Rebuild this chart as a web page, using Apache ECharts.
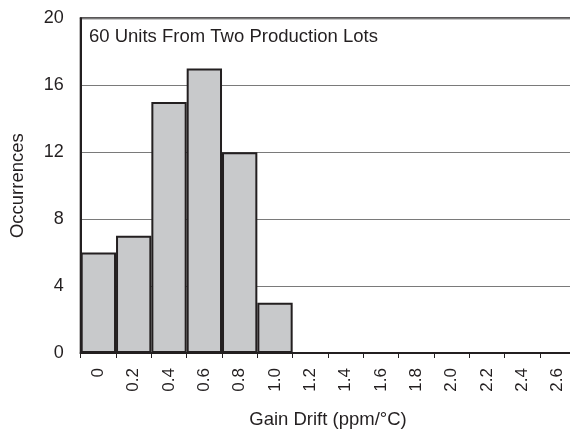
<!DOCTYPE html>
<html>
<head>
<meta charset="utf-8">
<script src="https://cdn.jsdelivr.net/npm/echarts@6/dist/echarts.min.js"></script>
<style>
html,body{margin:0;padding:0;background:#fff;overflow:hidden;width:570px;height:434px;}
#chart{width:582px;height:434px;}
</style>
</head>
<body>
<div id="chart"></div>
<script>
const categories = ['0','0.2','0.4','0.6','0.8','1.0','1.2','1.4','1.6','1.8','2.0','2.2','2.4','2.6'];
const occurrences = [6, 7, 15, 17, 12, 3, 0, 0, 0, 0, 0, 0, 0, 0];
const yTicks = [0, 4, 8, 12, 16, 20];
const titleText = '60 Units From Two Production Lots';
const xName = 'Gain Drift (ppm/°C)';
const yName = 'Occurrences';

const FONT = '"Liberation Sans", Arial, Helvetica, sans-serif';
const INK = '#231f20';

const chart = echarts.init(document.getElementById('chart'), null, {renderer: 'canvas'});
chart.setOption({
  animation: false,
  backgroundColor: '#fff',
  title: {
    text: titleText,
    left: 89,
    top: 27,
    padding: 0,
    textStyle: {fontFamily: FONT, fontSize: 18.5, fontWeight: 'normal', color: INK}
  },
  grid: {
    left: 80.7,
    top: 18.3,
    width: 494.6,
    height: 336.2,
    show: true,
    borderColor: INK,
    borderWidth: 2,
    containLabel: false
  },
  xAxis: {
    type: 'category',
    data: categories,
    boundaryGap: true,
    name: xName,
    nameLocation: 'middle',
    nameGap: 57,
    nameTextStyle: {fontFamily: FONT, fontSize: 18.5, color: INK},
    axisLine: {show: true, lineStyle: {color: INK, width: 2}},
    axisTick: {show: true, alignWithLabel: false, length: 5, lineStyle: {color: INK, width: 1}},
    axisLabel: {
      rotate: 90,
      interval: 0,
      margin: 15,
      fontFamily: FONT,
      fontSize: 17,
      color: INK
    },
    splitLine: {show: false}
  },
  yAxis: {
    type: 'value',
    min: yTicks[0],
    max: yTicks[yTicks.length - 1],
    interval: 4,
    name: yName,
    nameLocation: 'middle',
    nameGap: 53,
    nameTextStyle: {fontFamily: FONT, fontSize: 18.5, color: INK},
    axisLine: {show: true, lineStyle: {color: INK, width: 2}},
    axisTick: {show: false},
    axisLabel: {margin: 17, fontFamily: FONT, fontSize: 18, color: INK},
    splitLine: {show: true, lineStyle: {color: '#7a7a7a', width: 1}}
  },
  series: [{
    type: 'bar',
    data: occurrences,
    barCategoryGap: '0%',
    itemStyle: {color: '#c8c9cb', borderColor: INK, borderWidth: 2},
    emphasis: {disabled: true}
  }]
});
</script>
</body>
</html>
